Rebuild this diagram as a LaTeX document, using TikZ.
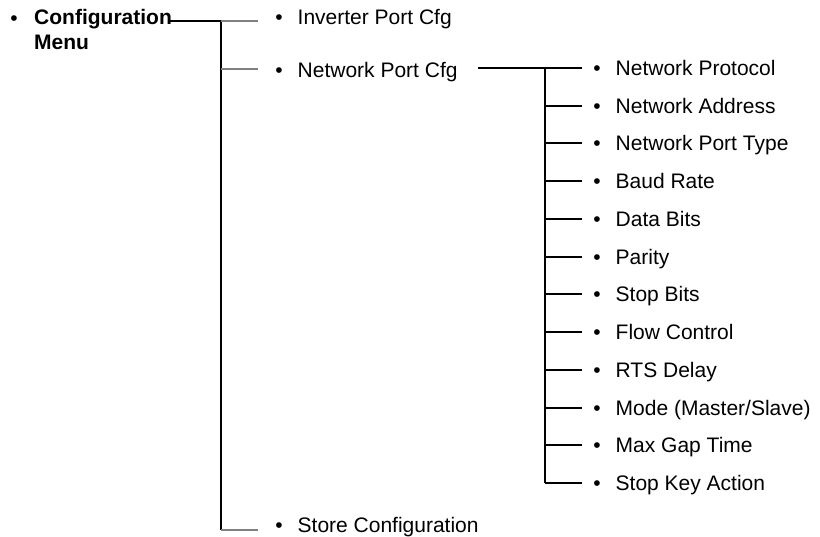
\documentclass[tikz,border=0pt]{standalone}
\usepackage{fontspec}
\setmainfont{Liberation Sans}
\begin{document}
\begin{tikzpicture}[x=1pt,y=-1pt,
  txt/.style={inner sep=0pt,anchor=base west,font=\fontsize{21}{25}\selectfont},
  bul/.style={inner sep=0pt,anchor=base,font=\fontsize{21}{25}\selectfont},
  blk/.style={draw=black,line width=2pt},
  gry/.style={draw=black!50,line width=2pt}]
\useasboundingbox (0,0) rectangle (820,536);
% root
\node[bul] (b0) at (14,25) {•};
\node[txt,align=left,anchor=north west] (root) at (34,9.5) {\bfseries Configuration\\\bfseries Menu};
% main items
\node[bul] (b1) at (279,24) {•};
\node[txt] (inv) at (297.5,24) {Inverter Port Cfg};
\node[bul] (b2) at (279,77) {•};
\node[txt] (net) at (297.5,77) {Network Port Cfg};
\node[bul] (b3) at (279,532) {•};
\node[txt] (store) at (297.5,532) {Store Configuration};
% spine
\coordinate (r0) at (170,21);
\coordinate (s1) at (221,21);
\coordinate (s2) at (221,68.5);
\coordinate (s3) at (221,530);
\coordinate (e1) at (258,21);
\coordinate (e2) at (258,68.5);
\coordinate (e3) at (258,530);
\draw[blk] (r0) -- (s1);
\draw[blk] (s1) -- (s3);
\draw[gry] (s1) -- (e1);
\draw[gry] (s2) -- (e2);
\draw[gry] (s3) -- (e3);
% network sub tree
\coordinate (n0) at (478,68);
\coordinate (t0) at (545,68);
\draw[blk] (n0) -- (582,68);
\foreach \i/\t in {0/{Network Protocol},1/{Network Address},2/{Network Port Type},3/{Baud Rate},4/{Data Bits},5/{Parity},6/{Stop Bits},7/{Flow Control},8/{RTS Delay},9/{Mode (Master/Slave)},10/{Max Gap Time},11/{Stop Key Action}}{
  \pgfmathsetmacro{\yy}{68+37.73*\i}
  \coordinate (j\i) at (545,\yy);
  \coordinate (k\i) at (582,\yy);
  \node[bul] (sb\i) at (597,\yy+7.5) {•};
  \node[txt] (st\i) at (615.5,\yy+7.5) {\t};
  \draw[blk] (j\i) -- (k\i);
}
\draw[blk] (t0) -- (j11);
\end{tikzpicture}
\end{document}
